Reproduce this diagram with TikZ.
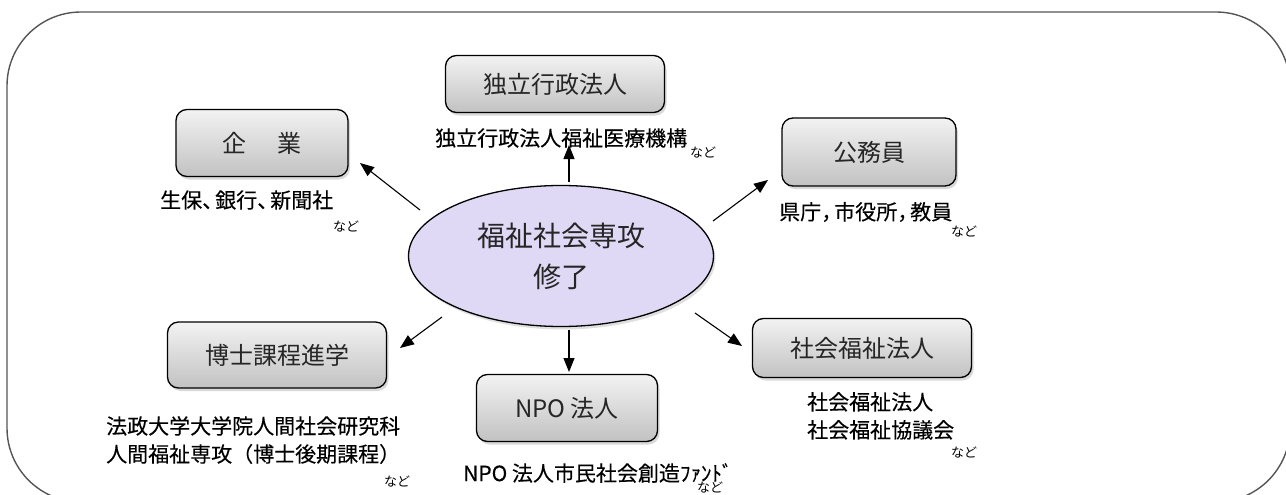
\documentclass[tikz,border=0pt]{standalone}
\usepackage{fontspec}
\setmainfont{Noto Sans CJK JP}
\newfontfamily\jpb{Noto Sans CJK JP}[FakeBold=0.25]
\usetikzlibrary{arrows.meta,shadows,shapes.geometric}
\definecolor{lav}{HTML}{E0D9F5}
\definecolor{framecol}{HTML}{555555}
\newcommand{\tc}{\hspace{-0.38em}}
\begin{document}
\begin{tikzpicture}[x=1pt,y=-1pt,
  box/.style={draw=black, line width=1.3pt, rounded corners=11pt,
    top color=black!5, bottom color=black!24,
    drop shadow={shadow xshift=2pt, shadow yshift=-3pt, opacity=0.3},
    font=\fontsize{24}{28}\selectfont, text=black!85, inner sep=0pt},
  lbl/.style={font=\jpb\fontsize{21}{28}\selectfont, inner sep=0pt, text=black},
  nado/.style={font=\fontsize{13}{15}\selectfont, inner sep=0pt, text=black},
  arr/.style={line width=1.1pt, -{Triangle[length=14pt, width=11pt]}},
]
\useasboundingbox (0,0) rectangle (1286,495);
\begin{scope}
\clip (0,0) rectangle (1286,495);
\draw[framecol, line width=1.4pt, rounded corners=74pt] (7,12) rectangle (1290,502);
\end{scope}

% center ellipse
\node[ellipse, draw=black, line width=1.3pt, fill=lav,
  drop shadow={shadow xshift=2pt, shadow yshift=-3pt, opacity=0.25},
  minimum width=305pt, minimum height=141pt, inner sep=0pt,
  font=\fontsize{28}{41}\selectfont, align=center, text=black!85]
  (c) at (561,256) {福祉社会専攻\\修了};

% boxes
\node[box, minimum width=172pt, minimum height=67pt] (kig) at (262,143) {企\hspace{1.3em}業};
\node[box, minimum width=219pt, minimum height=57pt] (dok) at (555,84) {独立行政法人};
\node[box, minimum width=174pt, minimum height=68pt] (kom) at (869,152) {公務員};
\node[box, minimum width=219pt, minimum height=66pt] (hak) at (277,355) {博士課程進学};
\node[box, minimum width=181pt, minimum height=67pt] (npo) at (567,408) {NPO 法人};
\node[box, minimum width=219pt, minimum height=59pt] (sha) at (862,348) {社会福祉法人};

% labels
\node[lbl, anchor=west] (l1) at (160,200) {生保、\tc 銀行、\tc 新聞社};
\node[nado, anchor=west] (n1) at (333,227) {など};
\node[lbl, anchor=west] (l2) at (435,138) {独立行政法人福祉医療機構};
\node[nado, anchor=west] (n2) at (690,153) {など};
\node[lbl, anchor=west] (l3) at (779,212) {県庁，\tc 市役所，\tc 教員};
\node[nado, anchor=west] (n3) at (951,232) {など};
\node[lbl, anchor=north west, align=left] (l4) at (106,416) {法政大学大学院人間社会研究科\\人間福祉専攻（博士後期課程）};
\node[nado, anchor=west] (n4) at (384,482) {など};
\node[lbl, anchor=west] (l5) at (463,473) {NPO 法人市民社会創造ﾌｧﾝﾄﾞ};
\node[nado, anchor=west] (n5) at (697,488) {など};
\node[lbl, anchor=north west, align=left] (l6) at (807,392) {社会福祉法人\\社会福祉協議会};
\node[nado, anchor=west] (n6) at (951,453) {など};

% arrows
\coordinate (a1) at (420,210);
\coordinate (a2) at (569,182);
\coordinate (a3) at (713,221);
\coordinate (a4) at (442,317);
\coordinate (a5) at (569,330);
\coordinate (a6) at (695,313);
\coordinate (b1) at (360,163);
\coordinate (b2) at (569,145);
\coordinate (b3) at (768,180);
\coordinate (b4) at (400,348);
\coordinate (b5) at (569,372);
\coordinate (b6) at (742,346);
\draw[arr] (a1) -- (b1);
\draw[arr] (a2) -- (b2);
\draw[arr] (a3) -- (b3);
\draw[arr] (a4) -- (b4);
\draw[arr] (a5) -- (b5);
\draw[arr] (a6) -- (b6);
\end{tikzpicture}
\end{document}
